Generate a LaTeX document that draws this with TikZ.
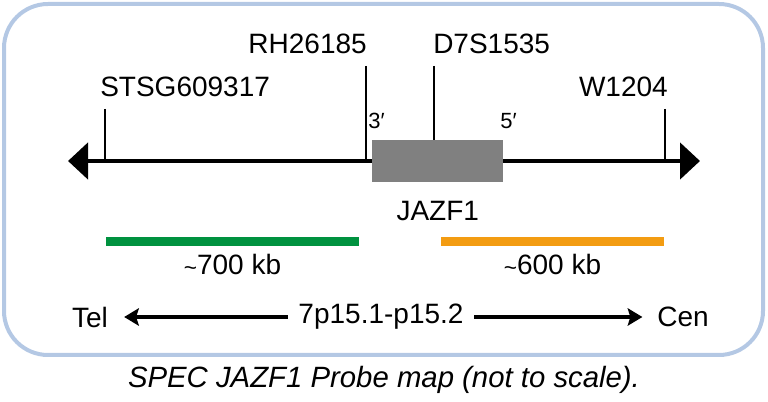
\documentclass[tikz,border=0pt]{standalone}
\usepackage{fontspec}
\setmainfont{Liberation Sans}
\usetikzlibrary{arrows.meta,positioning}
\definecolor{framblue}{RGB}{180,200,228}
\definecolor{genegray}{RGB}{128,128,128}
\definecolor{probegreen}{RGB}{0,146,63}
\definecolor{probeorange}{RGB}{243,156,18}

\begin{document}
\begin{tikzpicture}[x=0.75pt, y=-0.75pt,
  lbl/.style={font=\fontsize{21}{23}\selectfont, inner sep=0pt},
  endlbl/.style={font=\fontsize{16.5}{18}\selectfont, inner sep=0pt},
  tick/.style={line width=1.8pt},
  probe/.style={line width=6.8pt},
  dirarrow/.style={line width=3pt, -{Stealth[length=11pt,width=13pt,inset=2pt]}},
  ]
\useasboundingbox (0,0) rectangle (768,402);

% ======================================================================
% Frame
% ======================================================================
\draw[framblue, line width=3pt, rounded corners=33pt] (4,4) rectangle (763,355);

% ======================================================================
% Chromosome axis and gene box
% ======================================================================
\coordinate (axisL) at (68,161);
\coordinate (axisR) at (700,161);
\draw[line width=3.5pt, {Triangle[length=15pt,width=27pt]}-{Triangle[length=15pt,width=27pt]}]
  (axisL) -- (axisR);

\node[draw=none, fill=genegray, minimum width=98.25pt, minimum height=31.5pt,
      inner sep=0pt, anchor=north west] (gene) at (372,140) {};
\node[lbl, anchor=north] (genename) at ([yshift=-14pt]gene.south) {JAZF1};
\node[endlbl, anchor=base west] (three) at (368,129) {3′};
\node[endlbl, anchor=base east] (five) at (517,129) {5′};

% ======================================================================
% Markers
% ======================================================================
\node[lbl, anchor=base west] (stsg) at (100,97) {STSG609317};
\node[lbl, anchor=base east] (rh) at (367,54) {RH26185};
\node[lbl, anchor=base west] (d7s) at (433,54) {D7S1535};
\node[lbl, anchor=base east] (w12) at (668,97) {W1204};

\draw[tick] (105,109) -- (105,161);
\draw[tick] (366,66) -- (366,161);
\draw[tick] (434,66) -- (434,140);
\draw[tick] (665,109) -- (665,161);

% ======================================================================
% Probes
% ======================================================================
\draw[probe, probegreen] (106,241.5) -- (359,241.5) coordinate[midway] (greenmid);
\node[lbl, anchor=north] (kb700) at ([yshift=-9pt]greenmid) {\raisebox{-1pt}{\fontsize{17}{18}\selectfont\char`\~}700 kb};
\draw[probe, probeorange] (441,241.5) -- (664,241.5) coordinate[midway] (orangemid);
\node[lbl, anchor=north] (kb600) at ([yshift=-9pt]orangemid) {\raisebox{-1pt}{\fontsize{17}{18}\selectfont\char`\~}600 kb};

% ======================================================================
% Orientation
% ======================================================================
\node[lbl] (tel) at (90,317) {Tel};
\node[lbl] (band) at (381,317) {7p15.1-p15.2};
\node[lbl] (cen) at (683,317) {Cen};
\draw[dirarrow] (band.west) ++(-8pt,0) coordinate (bandL) -- ([xshift=12pt]tel.east);
\draw[dirarrow] (band.east) ++(8pt,0) coordinate (bandR) -- ([xshift=-11pt]cen.west);

% ======================================================================
% Caption
% ======================================================================
\node[font=\fontsize{22}{24}\selectfont\itshape, inner sep=0pt] (caption) at (384,380)
  {SPEC JAZF1 Probe map (not to scale).};

\end{tikzpicture}
\end{document}
